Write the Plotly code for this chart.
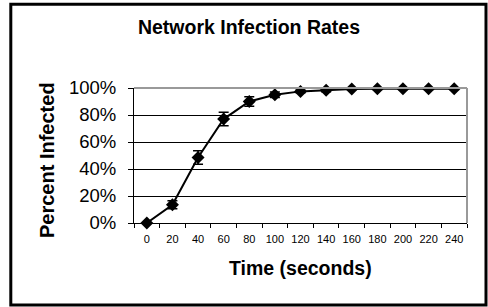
import plotly.graph_objects as go

time_labels = ["0", "20", "40", "60", "80", "100", "120", "140", "160", "180", "200", "220", "240"]
percent_infected = [0, 13.5, 48.5, 77, 90, 95, 97.5, 98.3, 99.3, 99.4, 99.4, 99.4, 99.4]
error_pct = [0, 3, 5, 5, 3.5, 2, 1, 1, 0.5, 0.5, 0.5, 0.5, 0.5]
y_ticks = [0, 20, 40, 60, 80, 100]
y_tick_labels = ["0%", "20%", "40%", "60%", "80%", "100%"]

W, H = 488, 307
L, R, T, B = 134, 467, 88, 223
pw, ph = R - L, B - T

def px(x):
    return (x - L) / pw

def py(y):
    return (B - y) / ph

FONT = "Liberation Sans, Arial, sans-serif"

fig = go.Figure()
fig.add_trace(go.Scatter(
    x=time_labels, y=percent_infected,
    mode="lines+markers",
    line=dict(color="black", width=2),
    marker=dict(symbol="diamond", size=10, color="black"),
    error_y=dict(type="data", array=error_pct, visible=True, color="black", thickness=1.5, width=5),
    showlegend=False,
    cliponaxis=False,
))

fig.update_layout(
    width=W, height=H,
    margin=dict(l=L, r=W - R, t=T, b=H - B),
    paper_bgcolor="white", plot_bgcolor="white",
    font=dict(family=FONT, color="black"),
    title=dict(text="<b>Network Infection Rates</b>", x=249 / W, xanchor="center",
               y=1 - 27.5 / H, yanchor="middle", font=dict(size=19.5, family=FONT, color="black")),
    xaxis=dict(type="category", range=[-0.5, 12.5], showgrid=False,
               showline=True, linecolor="black", linewidth=1,
               ticks="outside", tickson="boundaries", ticklen=4, tickcolor="black",
               tickangle=0,
               tickfont=dict(size=11, family=FONT, color="black"), ticklabelstandoff=6),
    yaxis=dict(range=[0, 100], tickmode="array", tickvals=y_ticks, ticktext=y_tick_labels,
               showgrid=True, gridcolor="black", gridwidth=1, zeroline=False,
               showline=True, linecolor="black", linewidth=1,
               ticks="outside", ticklen=5, tickcolor="black",
               tickfont=dict(size=18.5, family=FONT, color="black"), ticklabelstandoff=8),
    shapes=[
        dict(type="line", xref="paper", yref="paper", x0=0, x1=1, y0=1, y1=1,
             line=dict(color="#999999", width=2), layer="above"),
        dict(type="line", xref="paper", yref="paper", x0=1, x1=1, y0=0, y1=1,
             line=dict(color="#999999", width=2), layer="above"),
        dict(type="rect", xref="paper", yref="paper", x0=px(10.8), x1=px(486), y0=py(305), y1=py(4.3),
             line=dict(color="black", width=3), fillcolor="rgba(0,0,0,0)", layer="above"),
    ],
    annotations=[
        dict(text="<b>Percent Infected</b>", xref="paper", yref="paper", x=px(47), y=py(160),
             textangle=-90, showarrow=False, xanchor="center", yanchor="middle",
             font=dict(size=20, family=FONT, color="black")),
        dict(text="<b>Time (seconds)</b>", xref="paper", yref="paper", x=0.5, y=py(268),
             showarrow=False, xanchor="center", yanchor="middle",
             font=dict(size=19.5, family=FONT, color="black")),
    ],
)

fig.write_html("out.html", config={"displayModeBar": False},
               post_script="document.body.style.margin='0';document.body.style.padding='0';")
